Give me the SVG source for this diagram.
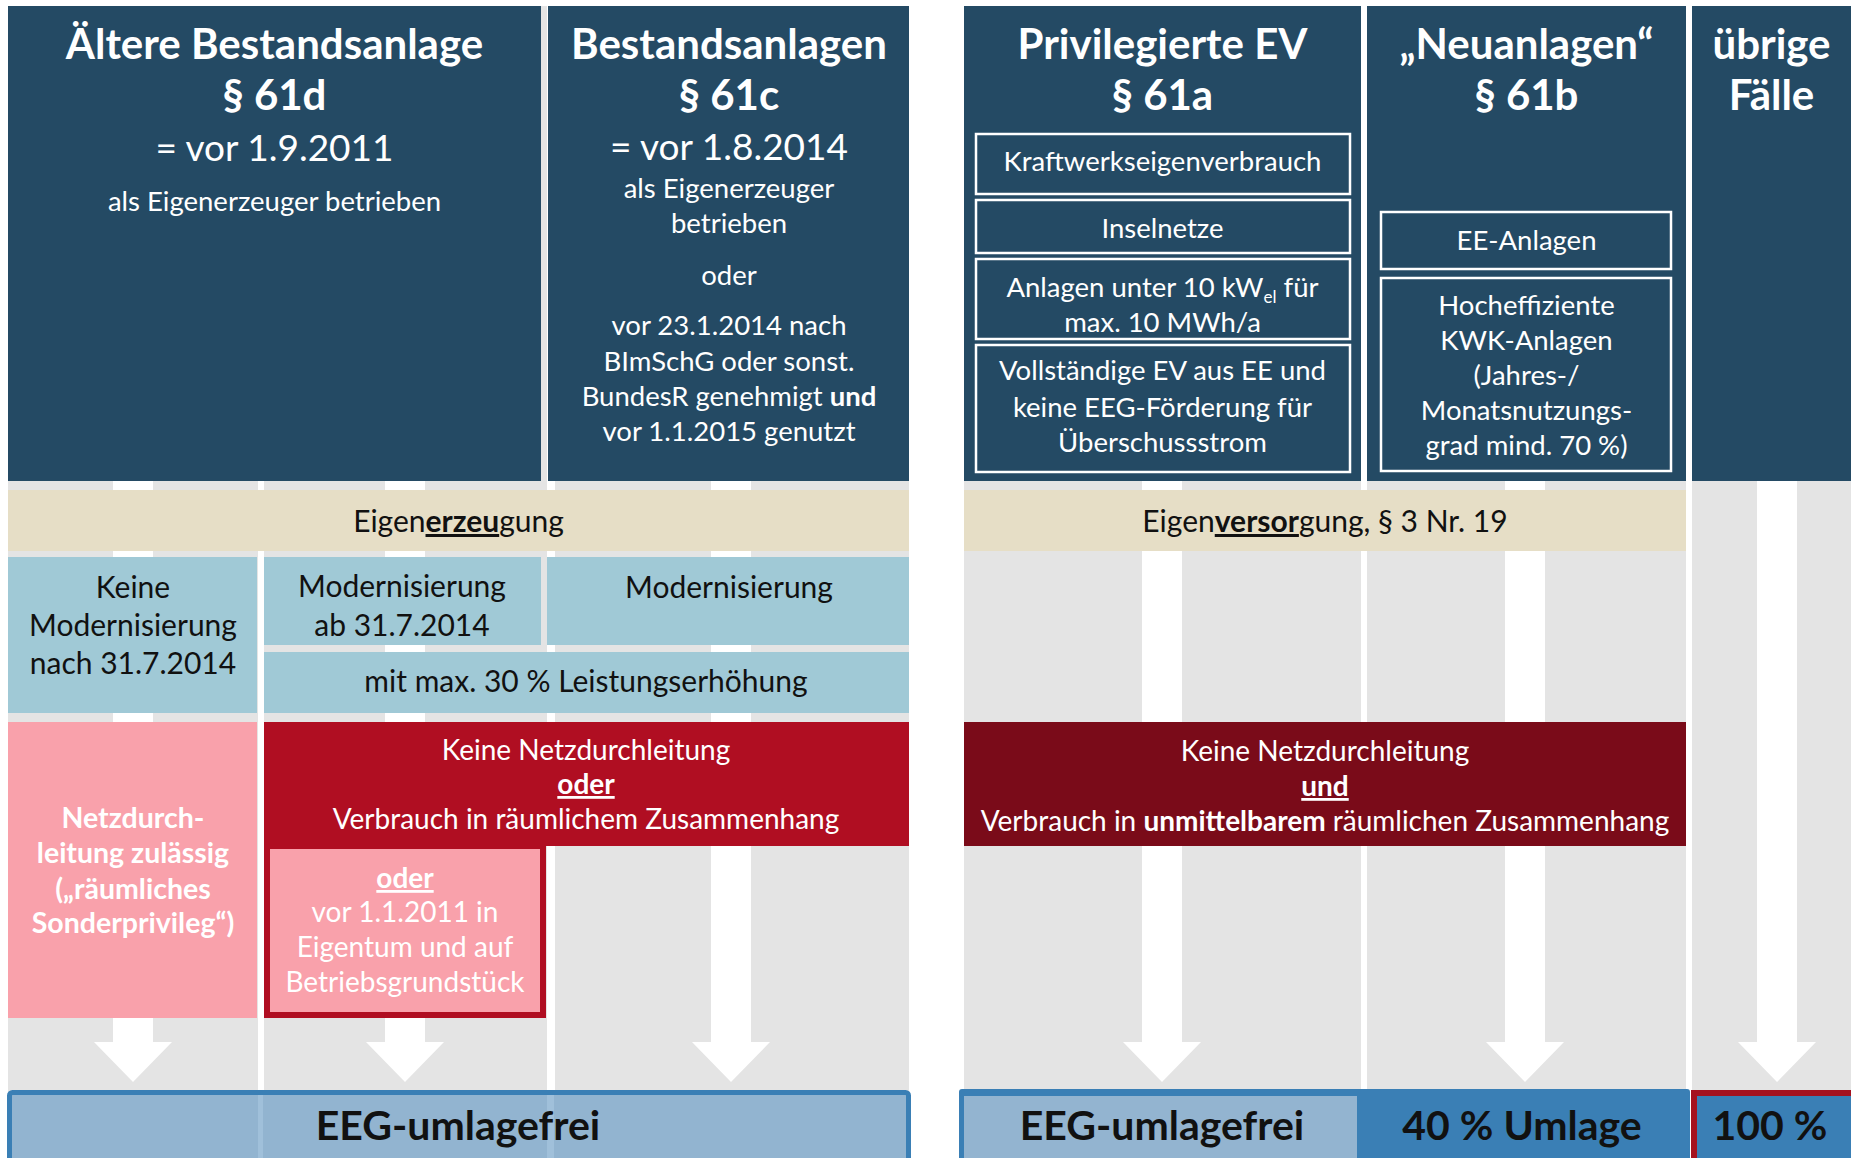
<svg xmlns="http://www.w3.org/2000/svg" width="1851" height="1158" viewBox="0 0 1851 1158">
<defs>
<style>
text{font-family:Lato,"Open Sans","Liberation Sans",sans-serif;text-anchor:middle}
.h{font-size:42px;font-weight:700;fill:#fff}
.d{font-size:37px;fill:#fff}
.s{font-size:27.5px;fill:#fff}
.k{font-size:30px;fill:#111}
.w{font-size:28px;fill:#fff}
.wb{font-size:28.5px;fill:#fff;font-weight:700}
.bb{font-size:41px;font-weight:700;fill:#111}
.b{font-weight:700}
.u{text-decoration:underline}
.navy{fill:#244A64}
.inner{fill:none;stroke:#fff;stroke-width:2.5}
.col{fill:#E4E4E4}
.beige{fill:#E6DEC6}
.lb{fill:#A0C9D6}
.pink{fill:#F9A1AB}
.red{fill:#B00E22}
.dred{fill:#7A0B19}
.arrow{fill:#fff}
</style>
</defs>
<rect width="1851" height="1158" fill="#fff"/>
<g id="columns">
<rect class="col" x="8" y="6" width="250" height="1086"/>
<rect class="col" x="264" y="6" width="283" height="1086"/>
<rect class="col" x="555" y="6" width="354" height="1086"/>
<rect class="col" x="964" y="6" width="397" height="1086"/>
<rect class="col" x="1367" y="6" width="319" height="1086"/>
<rect class="col" x="1692" y="6" width="159" height="1086"/>
</g>
<g id="connectors">
<path class="arrow" d="M113,481H153V1042H172L133,1082L94,1042H113Z"/>
<path class="arrow" d="M385,481H425V1042H444L405,1082L366,1042H385Z"/>
<path class="arrow" d="M711,481H751V1042H770L731,1082L692,1042H711Z"/>
<path class="arrow" d="M1142,481H1182V1042H1201L1162,1082L1123,1042H1142Z"/>
<path class="arrow" d="M1505,481H1545V1042H1564L1525,1082L1486,1042H1505Z"/>
<path class="arrow" d="M1757,481H1797V1042H1816L1777,1082L1738,1042H1757Z"/>
</g>
<g id="n-aeltere">
<rect class="navy" x="8" y="6" width="533" height="475"/>
<text class="h" x="274.5" y="59">Ältere Bestandsanlage</text>
<text class="h" x="274.5" y="110">§ 61d</text>
<text class="d" x="274.5" y="161">= vor 1.9.2011</text>
<text class="s" x="274.5" y="211">als Eigenerzeuger betrieben</text>
</g>
<g id="n-bestand">
<rect class="navy" x="548" y="6" width="361" height="475"/>
<text class="h" x="729" y="59">Bestandsanlagen</text>
<text class="h" x="729" y="110">§ 61c</text>
<text class="d" x="729" y="160">= vor 1.8.2014</text>
<text class="s" x="729" y="198">als Eigenerzeuger</text>
<text class="s" x="729" y="233">betrieben</text>
<text class="s" x="729" y="285">oder</text>
<text class="s" x="729" y="335">vor 23.1.2014 nach</text>
<text class="s" x="729" y="371">BImSchG oder sonst.</text>
<text class="s" x="729" y="406">BundesR genehmigt <tspan class="b">und</tspan></text>
<text class="s" x="729" y="441">vor 1.1.2015 genutzt</text>
</g>
<g id="n-privileg">
<rect class="navy" x="964" y="6" width="397" height="475"/>
<text class="h" x="1162.5" y="59">Privilegierte EV</text>
<text class="h" x="1162.5" y="110">§ 61a</text>
<rect class="inner" x="976" y="134" width="374" height="60"/>
<rect class="inner" x="976" y="200" width="374" height="53"/>
<rect class="inner" x="976" y="259" width="374" height="80"/>
<rect class="inner" x="976" y="345" width="374" height="127"/>
<text class="s" x="1162.5" y="171">Kraftwerkseigenverbrauch</text>
<text class="s" x="1162.5" y="238">Inselnetze</text>
<text class="s" x="1162.5" y="297">Anlagen unter 10 kW<tspan font-size="17" dy="6">el</tspan><tspan dy="-6"> für</tspan></text>
<text class="s" x="1162.5" y="332">max. 10 MWh/a</text>
<text class="s" x="1162.5" y="380">Vollständige EV aus EE und</text>
<text class="s" x="1162.5" y="417">keine EEG-Förderung für</text>
<text class="s" x="1162.5" y="452">Überschussstrom</text>
</g>
<g id="n-neu">
<rect class="navy" x="1367" y="6" width="319" height="475"/>
<text class="h" x="1526.5" y="59">„Neuanlagen“</text>
<text class="h" x="1526.5" y="110">§ 61b</text>
<rect class="inner" x="1381" y="212" width="290" height="57"/>
<rect class="inner" x="1381" y="278" width="290" height="193"/>
<text class="s" x="1526.5" y="250">EE-Anlagen</text>
<text class="s" x="1526.5" y="315">Hocheffiziente</text>
<text class="s" x="1526.5" y="350">KWK-Anlagen</text>
<text class="s" x="1526.5" y="385">(Jahres-/</text>
<text class="s" x="1526.5" y="420">Monatsnutzungs-</text>
<text class="s" x="1526.5" y="455">grad mind. 70 %)</text>
</g>
<g id="n-uebrige">
<rect class="navy" x="1692" y="6" width="159" height="475"/>
<text class="h" x="1771.5" y="59">übrige</text>
<text class="h" x="1771.5" y="110">Fälle</text>
</g>
<g id="n-eigenerzeugung">
<rect class="beige" x="8" y="490" width="901" height="61"/>
<text class="k" x="458.5" y="532" font-size="31">Eigen<tspan class="b u">erzeu</tspan>gung</text>
</g>
<g id="n-eigenversorgung">
<rect class="beige" x="964" y="490" width="722" height="61"/>
<text class="k" x="1325" y="532">Eigen<tspan class="b u">versor</tspan>gung, § 3 Nr. 19</text>
</g>
<g id="n-keine-mod">
<rect class="lb" x="8" y="557" width="249" height="156"/>
<text class="k" x="133" y="598">Keine</text>
<text class="k" x="133" y="636">Modernisierung</text>
<text class="k" x="133" y="674">nach 31.7.2014</text>
</g>
<g id="n-mod-ab">
<rect class="lb" x="264" y="557" width="277" height="88"/>
<text class="k" x="402" y="597">Modernisierung</text>
<text class="k" x="402" y="636">ab 31.7.2014</text>
</g>
<g id="n-mod">
<rect class="lb" x="547" y="557" width="362" height="88"/>
<text class="k" x="729" y="598">Modernisierung</text>
</g>
<g id="n-max30">
<rect class="lb" x="264" y="652" width="645" height="61"/>
<text class="k" x="586" y="692">mit max. 30 % Leistungserhöhung</text>
</g>
<g id="n-sonderprivileg">
<rect class="pink" x="8" y="722" width="249" height="296"/>
<text class="wb" x="133" y="828">Netzdurch-</text>
<text class="wb" x="133" y="863">leitung zulässig</text>
<text class="wb" x="133" y="899">(„räumliches</text>
<text class="wb" x="133" y="933">Sonderprivileg“)</text>
</g>
<g id="n-keine-netz-oder">
<rect class="red" x="264" y="722" width="645" height="124"/>
<text class="w" x="586" y="760">Keine Netzdurchleitung</text>
<text class="w" x="586" y="794"><tspan class="b u">oder</tspan></text>
<text class="w" x="586" y="829">Verbrauch in räumlichem Zusammenhang</text>
</g>
<g id="n-eigentum">
<rect class="pink" x="267" y="846" width="276" height="169" stroke="#B00E22" stroke-width="6"/>
<text class="w" x="405" y="888"><tspan class="b u">oder</tspan></text>
<text class="w" x="405" y="922">vor 1.1.2011 in</text>
<text class="w" x="405" y="957">Eigentum und auf</text>
<text class="w" x="405" y="992">Betriebsgrundstück</text>
</g>
<g id="n-keine-netz-und">
<rect class="dred" x="964" y="722" width="722" height="124"/>
<text class="w" x="1325" y="761">Keine Netzdurchleitung</text>
<text class="w" x="1325" y="796"><tspan class="b u">und</tspan></text>
<text class="w" x="1325" y="831">Verbrauch in <tspan class="b">unmittelbarem</tspan> räumlichen Zusammenhang</text>
</g>
<g id="n-umlagefrei-links">
<rect x="9.5" y="1092.5" width="899" height="75" rx="3" fill="#92B4D0" stroke="#3A7FB5" stroke-width="5"/>
<rect x="258" y="1095" width="5" height="63" fill="#A0C0DA"/>
<rect x="547" y="1095" width="7" height="63" fill="#A0C0DA"/>
<text class="bb" x="458" y="1140">EEG-umlagefrei</text>
</g>
<g id="n-umlage-rechts">
<rect x="959" y="1089" width="731" height="75" rx="3" fill="#3A7FB5"/>
<rect x="964" y="1096" width="393" height="62" fill="#93B4D0"/>
<text class="bb" x="1162" y="1140">EEG-umlagefrei</text>
<text class="bb" x="1522" y="1140">40 % Umlage</text>
</g>
<g id="n-100">
<rect x="1694" y="1093" width="160" height="70" fill="#3A7FB5" stroke="#A5121F" stroke-width="6"/>
<text class="bb" x="1770" y="1140">100 %</text>
</g>
</svg>
